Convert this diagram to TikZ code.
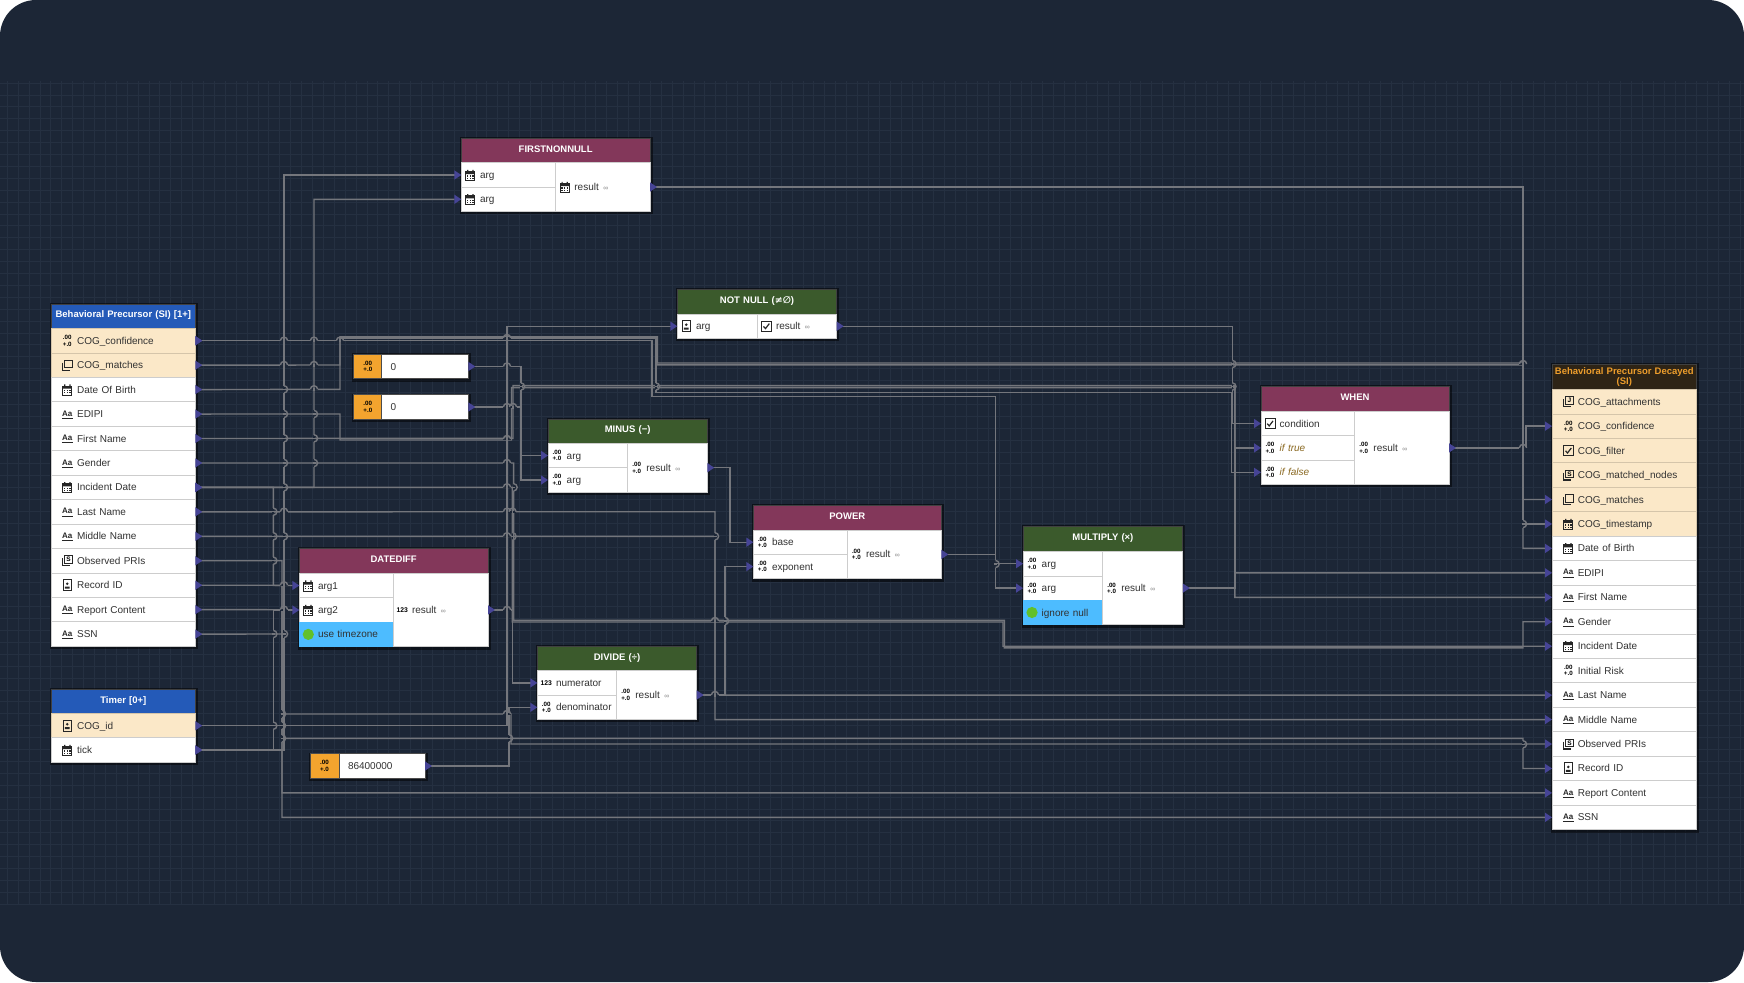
\documentclass[tikz,border=0pt]{standalone}
\usepackage{fontspec}
\setmainfont{Liberation Sans}
\newfontfamily\symfont{DejaVu Sans}
\usepackage{xcolor}
\usepackage{tikz}
\usetikzlibrary{arrows.meta}
\definecolor{canvas}{RGB}{28,38,54}
\definecolor{gridfaint}{RGB}{37,48,65}
\definecolor{wirecol}{RGB}{116,118,124}
\definecolor{portink}{RGB}{70,68,150}
\definecolor{tableblue}{RGB}{36,90,184}
\definecolor{outbrown}{RGB}{46,36,22}
\definecolor{outorange}{RGB}{238,158,44}
\definecolor{keyrow}{RGB}{251,232,200}
\definecolor{opgreen}{RGB}{59,90,44}
\definecolor{opmaroon}{RGB}{131,55,90}
\definecolor{constorange}{RGB}{243,164,46}
\definecolor{flagblue}{RGB}{77,188,255}
\definecolor{flaggreen}{RGB}{98,192,42}
\definecolor{optbrown}{RGB}{138,104,32}
\definecolor{rowrule}{RGB}{205,205,205}
\definecolor{inktext}{RGB}{50,50,50}
\tikzset{
  wire/.style={draw=wirecol, line width=1.4pt,
    arrows={Triangle[reversed,length=7pt,width=9pt,color=portink]-Triangle[length=7pt,width=9pt,color=portink]}},
  hopline/.style={draw=wirecol, line width=1.4pt},
  panelshade/.style={fill=black, opacity=.5},
  basecell/.style={inner sep=0pt, outer sep=0pt, font=\fontsize{10}{12}\selectfont, text=inktext, align=left,
    text height=8pt, text depth=1pt},
  tablerow/.style={basecell, fill=white, draw=rowrule, line width=.8pt, execute at begin node={\hspace*{25.8pt}}},
  tablekey/.style={tablerow, fill=keyrow, draw=keyrow!85!black},
  oprow/.style={basecell, fill=white, draw=rowrule, line width=.8pt, execute at begin node={\hspace*{18.7pt}}},
  opflag/.style={oprow, fill=flagblue, draw=flagblue},
  optrow/.style={oprow, font=\fontsize{10}{12}\selectfont\itshape, text=optbrown},
  constcell/.style={basecell, fill=white, draw=black!70, line width=.8pt, execute at begin node={\hspace*{9pt}}},
  constmark/.style={basecell, fill=constorange, draw=black!70, line width=.8pt},
  headcell/.style={inner sep=0pt, outer sep=0pt, draw=black!75, line width=.8pt, align=center, text=white,
    font=\fontsize{9.5}{10.2}\selectfont\bfseries, execute at begin node={\hyphenpenalty=10000\exhyphenpenalty=10000}},
  headblue/.style={headcell, fill=tableblue, text height=7pt, text depth=3.6pt},
  headout/.style={headcell, fill=outbrown, text=outorange},
  headgreen/.style={headcell, fill=opgreen, text height=7pt, text depth=3.6pt},
  headmaroon/.style={headcell, fill=opmaroon, text height=7pt, text depth=3.6pt},
  iconline/.style={draw=black!85, line width=1pt},
  pics/calicon/.style={code={
    \draw[iconline] (-4.5,-3.5) rectangle (4.5,5.5);
    \fill[black!85] (-4.5,-3.5) rectangle (4.5,-1) (-3.2,-5.2) rectangle (-2,-3) (2,-5.2) rectangle (3.2,-3);
    \foreach \dx in {-2.6,0,2.6} {\foreach \dy in {1,3.2} {\fill[black!85] (\dx-.7,\dy-.6) rectangle (\dx+.7,\dy+.6);}}
  }},
  pics/copyicon/.style={code={
    \draw[iconline] (-2.5,-5) rectangle (5,2.5);
    \draw[iconline] (-5,-2.5) -- (-5,5) -- (2.5,5);
  }},
  pics/docs/.style={code={
    \draw[iconline] (-2.5,-5) rectangle (5,2.5);
    \draw[iconline, line width=1.4pt] (-5,-2.5) -- (-5,5) -- (2.5,5);
    \node[inner sep=0pt, font=\fontsize{6.5}{7}\selectfont\bfseries] (glyph) at (1.2,-1.2) {S};
  }},
  pics/docj/.style={code={
    \draw[iconline] (-2.5,-5) rectangle (5,2.5);
    \draw[iconline, line width=1.4pt] (-5,-2.5) -- (-5,5) -- (2.5,5);
    \node[inner sep=0pt, font=\fontsize{6.5}{7}\selectfont\bfseries] (glyph) at (1.2,-1.2) {J};
  }},
  pics/idicon/.style={code={
    \draw[iconline] (-4,-5.5) rectangle (4,5.5);
    \fill[black!85] (0,-1.5) circle (1.4pt) (-2.4,1.4) rectangle (2.4,3.4);
  }},
  pics/checkicon/.style={code={
    \draw[iconline] (-5,-5) rectangle (5,5);
    \draw[black!85, line width=1.2pt] (-2.8,.2) -- (-.8,2.4) -- (3,-2.6);
  }},
  pics/texticon/.style={code={
    \node[inner sep=0pt, text=black!85, font=\fontsize{8}{8}\selectfont\bfseries] (glyph) at (0,-.6) {Aa};
    \draw[black!85, line width=.8pt] (-5.5,4.2) -- (5.5,4.2);
  }},
  pics/numicon/.style={code={
    \node[inner sep=0pt, text=black, align=center, font=\fontsize{6.2}{6.4}\selectfont\bfseries] (glyph) at (0,0) {.00\\+.0};
  }},
  pics/inticon/.style={code={
    \node[inner sep=0pt, text=black, font=\fontsize{6.8}{7}\selectfont\bfseries] (glyph) at (0,0) {123};
  }},
  pics/flagdot/.style={code={\fill[flaggreen] (0,0) circle (5.6pt);}},
}
% one cell: name, left x, middle y, width, height, style, text
\newcommand{\cell}[7]{\node[#6, anchor=west, minimum width=#4pt, text width=#4pt, minimum height=#5pt] (#1) at (#2,#3) {#7};}
\newcommand{\iconin}[3]{\edef\doicon{\noexpand\pic[xshift=#2pt] at (#1.west) {#3};}\doicon}
\newcommand{\hoph}[2]{%
  \fill[canvas] (#1-3.6,#2-.9) rectangle (#1+3.6,#2+.9);
  \draw[hopline] (#1,#2-1.5) -- (#1,#2+1.5);
  \draw[hopline] (#1-3.6,#2) arc[start angle=180, end angle=0, radius=3.6pt];}
\newcommand{\hopv}[2]{%
  \fill[canvas] (#1-.9,#2-3.6) rectangle (#1+.9,#2+3.6);
  \draw[hopline] (#1-1.5,#2) -- (#1+1.5,#2);
  \draw[hopline] (#1,#2-3.6) arc[start angle=90, end angle=-90, radius=3.6pt];}
\newcommand{\rslt}{result {\fontsize{7}{8}\selectfont\color{black!45}\,∞}}

\begin{document}
\begin{tikzpicture}[x=1pt, y=-1pt]
  \useasboundingbox (0,0) rectangle (1744,982);
  \fill[white] (0,0) rectangle (1744,982);
  \fill[canvas, rounded corners=36pt] (0,0) rectangle (1744,982);
  \foreach \gx in {7.2,18.1,...,1744} {\draw[gridfaint, line width=.7pt] (\gx,81) -- (\gx,905);}
  \foreach \gy in {83,94.9,...,905} {\draw[gridfaint, line width=.7pt] (0,\gy) -- (1744,\gy);}

  % shadows under the boxes
  \foreach \xa/\ya/\xb/\yb in {51.3/304/195.3/646, 51.3/689.3/195.3/762, 1552/364.7/1696.7/829.7, 461.3/138.3/650/211,
    677.3/289.7/836.7/338.3, 548/419/707.3/492, 299.3/548.7/488/646.5, 753.3/505.3/941.3/578.7, 537.3/646/696.7/719.3,
    1023/526.7/1182.8/624.7, 1261/386.7/1449/484.3, 353.3/354.3/468.3/378.7, 353.3/395/468.3/419, 310/754/425/778}
    {\fill[panelshade] (\xa-1.5,\yb+3) rectangle (\xb+2.5,\ya-1.5);}

  % source table
  \cell{lHead}{51.3}{316.2}{144}{24.4}{headblue}{Behavioral Precursor (SI) [1+]}
  \foreach \nm/\ic/\txt [count=\i from 0] in {lConf/numicon/COG\_confidence, lMatches/copyicon/COG\_matches} {
    \pgfmathsetmacro\rowy{340.7+24.45*\i}
    \cell{\nm}{51.3}{\rowy}{144}{24.45}{tablekey}{\txt}
    \iconin{\nm}{16}{\ic}
  }
  \foreach \nm/\ic/\txt [count=\i from 2] in {lDob/calicon/Date Of Birth, lEdipi/texticon/EDIPI, lFirst/texticon/First Name,
    lGender/texticon/Gender, lIncident/calicon/Incident Date, lLast/texticon/Last Name, lMiddle/texticon/Middle Name,
    lPri/docs/Observed PRIs, lRecord/idicon/Record ID, lReport/texticon/Report Content, lSsn/texticon/SSN} {
    \pgfmathsetmacro\rowy{340.7+24.45*\i}
    \cell{\nm}{51.3}{\rowy}{144}{24.45}{tablerow}{\txt}
    \iconin{\nm}{16}{\ic}
  }

  % timer table
  \cell{tHead}{51.3}{701.3}{144}{24.4}{headblue}{Timer [0+]}
  \cell{tId}{51.3}{725.7}{144}{24.45}{tablekey}{COG\_id}
  \iconin{tId}{16}{idicon}
  \cell{tTick}{51.3}{750}{144}{24.45}{tablerow}{tick}
  \iconin{tTick}{16}{calicon}

  % output table
  \cell{rHead}{1552}{377}{144.7}{24.6}{headout}{Behavioral Precursor Decayed\\[-.4pt](SI)}
  \foreach \nm/\ic/\txt [count=\i from 0] in {rAttach/docj/COG\_attachments, rConf/numicon/COG\_confidence, rFilter/checkicon/COG\_filter,
    rNodes/docs/COG\_matched\_nodes, rMatches/copyicon/COG\_matches, rStamp/calicon/COG\_timestamp} {
    \pgfmathsetmacro\rowy{401.7+24.45*\i}
    \cell{\nm}{1552}{\rowy}{144.7}{24.45}{tablekey}{\txt}
    \iconin{\nm}{16.3}{\ic}
  }
  \foreach \nm/\ic/\txt [count=\i from 6] in {rDob/calicon/Date of Birth, rEdipi/texticon/EDIPI, rFirst/texticon/First Name,
    rGender/texticon/Gender, rIncident/calicon/Incident Date, rRisk/numicon/Initial Risk, rLast/texticon/Last Name,
    rMiddle/texticon/Middle Name, rPri/docs/Observed PRIs, rRecord/idicon/Record ID, rReport/texticon/Report Content, rSsn/texticon/SSN} {
    \pgfmathsetmacro\rowy{401.7+24.45*\i}
    \cell{\nm}{1552}{\rowy}{144.7}{24.45}{tablerow}{\txt}
    \iconin{\nm}{16.3}{\ic}
  }

  % operator headers
  \foreach \nm/\xa/\wdc/\yc/\sty/\txt in {fnnHead/461.3/188.7/150.5/headmaroon/FIRSTNONNULL,
    nnHead/677.3/159.4/301.9/headgreen/NOT NULL ({\symfont ≠∅}), minHead/548/159.3/431.2/headgreen/MINUS (−),
    dateHead/299.3/188.7/561/headmaroon/DATEDIFF, powHead/753.3/188/517.7/headmaroon/POWER,
    divHead/537.3/159.4/658.4/headgreen/DIVIDE (÷), mulHead/1023/159.8/539.1/headgreen/MULTIPLY (×),
    whenHead/1261/188/399/headmaroon/WHEN} {
    \cell{\nm}{\xa}{\yc}{\wdc}{24.5}{\sty}{\txt}
  }

  % operator inputs
  \foreach \nm/\xa/\wdc/\yc/\sty/\ic/\txt in {fnnA/461.3/94.4/175/oprow/calicon/arg, fnnB/461.3/94.4/199.3/oprow/calicon/arg,
    nnArg/677.3/80/326.2/oprow/idicon/arg, minA/548/79.7/455.5/oprow/numicon/arg, minB/548/79.7/480/oprow/numicon/arg,
    dateA/299.3/94/585.5/oprow/calicon/arg1, dateB/299.3/94/610/oprow/calicon/arg2, dateTz/299.3/94/634.4/opflag/flagdot/use timezone,
    powBase/753.3/94/542.2/oprow/numicon/base, powExp/753.3/94/566.6/oprow/numicon/exponent,
    divNum/537.3/79.4/682.9/oprow/inticon/numerator, divDen/537.3/79.4/707.3/oprow/numicon/denominator,
    mulA/1023/79.6/563.7/oprow/numicon/arg, mulB/1023/79.6/588.1/oprow/numicon/arg, mulNull/1023/79.6/612.5/opflag/flagdot/ignore null,
    whenCond/1261/93.7/423.5/oprow/checkicon/condition, whenTrue/1261/93.7/447.9/optrow/numicon/if true, whenFalse/1261/93.7/472.3/optrow/numicon/if false} {
    \cell{\nm}{\xa}{\yc}{\wdc}{24.4}{\sty}{\txt}
    \iconin{\nm}{9}{\ic}
  }

  % operator results
  \foreach \nm/\xa/\wdc/\yc/\htc/\ic in {fnnOut/555.7/94.3/187/48.8/calicon, nnOut/757.3/79.4/326.2/24.4/checkicon,
    minOut/627.7/79.6/467.7/48.8/numicon, dateOut/393.3/94.7/609.9/73.2/inticon, powOut/847.3/94/554.4/48.8/numicon,
    divOut/616.7/80/695/48.8/numicon, mulOut/1102.6/80.2/588.1/73.2/numicon, whenOut/1354.7/94.3/447.9/73.2/numicon} {
    \cell{\nm}{\xa}{\yc}{\wdc}{\htc}{oprow}{\rslt}
    \iconin{\nm}{9}{\ic}
  }

  % constants
  \foreach \nm/\xa/\xm/\xb/\yc/\txt in {constA/353.3/381.7/468.3/366.5/0, constB/353.3/381.7/468.3/407/0, constC/310/339/425/766/86400000} {
    \pgfmathsetmacro\wda{\xm-\xa}
    \pgfmathsetmacro\wdb{\xb-\xm}
    \cell{\nm Mark}{\xa}{\yc}{\wda}{24.4}{constmark}{}
    \iconin{\nm Mark}{14.5}{numicon}
    \cell{\nm}{\xm}{\yc}{\wdb}{24.4}{constcell}{\txt}
  }

  % connectors
  \draw[wire] (lConf.east) -- (652,340.7) -- (652,396.7) -- (995.5,396.7) |- (mulA.west);
  \draw[wire] (lConf.east) -- (340,340.7) -- (340,338.6) -- (656,338.6) -- (656,392.7) -- (1231.7,392.7) |- (whenFalse.west);
  \draw[wire] (lMatches.east) -- (340,365) -- (340,336.7) -- (657.5,336.7) -- (657.5,363) -- (1523,363) |- (rMatches.west);
  \draw[wire] (lDob.east) -- (340,389.3) -- (340,337.5) -- (657,337.5) -- (657,364.8) -- (1523,364.8) |- (rDob.west);
  \draw[wire] (lEdipi.east) -- (340,414) -- (340,440) -- (511.5,440) -- (511.5,387.6) -- (1234.8,387.6) |- (rEdipi.west);
  \draw[wire] (lFirst.east) -- (513,438.3) -- (513,385.6) -- (1234.8,385.6) |- (rFirst.west);
  \draw[wire] (lGender.east) -- (513.6,463) -- (513.6,620.4) -- (1004.4,620.4) -- (1004.4,647.8) -- (1523,647.8) |- (rGender.west);
  \draw[wire] (lIncident.east) -- (512.2,487.3) -- (512.2,622) -- (1003,622) |- (rIncident.west);
  \draw[wire] (lIncident.east) -- (314,487.3) |- (fnnB.west);
  \draw[wire] (lIncident.east) -- (273.3,487.3) |- (dateA.west);
  \draw[wire] (tTick.east) -- (273.3,750) |- (dateB.west);
  \draw[wire] (tTick.east) -- (284,750) |- (fnnA.west);
  \draw[wire] (lLast.east) -- (715,511.7) |- (rLast.west);
  \draw[wire] (lMiddle.east) -- (715,536.3) |- (rMiddle.west);
  \draw[wire] (lPri.east) -- (282,560.7) -- (282,714) -- (511,714) |- (rPri.west);
  \draw[wire] (lRecord.east) -- (282,585.3) -- (282,738.3) -- (1523,738.3) |- (rRecord.west);
  \draw[wire] (lReport.east) -- (282,609.7) |- (rReport.west);
  \draw[wire] (lSsn.east) -- (282,634) |- (rSsn.west);
  \draw[wire] (tId.east) -- (507,725.7) |- (nnArg.west);
  \draw[wire] (nnOut.east) -- (1232.4,326.2) |- (whenCond.west);
  \draw[wire] (mulOut.east) -- (1234.8,588.1) |- (whenTrue.west);
  \draw[wire] (whenOut.east) -- (1526,447.9) |- (rConf.west);
  \draw[wire] (fnnOut.east) -- (1523,187) |- (rStamp.west);
  \draw[wire] (minOut.east) -- (730,467.7) |- (powBase.west);
  \draw[wire] (divOut.east) -- (725,695) |- (powExp.west);
  \draw[wire] (powOut.east) -- (995.5,554.4) |- (mulB.west);
  \draw[wire] (dateOut.east) -- (512.2,609.9) |- (divNum.west);
  \draw[wire] (constA.east) -- (521,366.5) |- (minA.west);
  \draw[wire] (constB.east) -- (521,407) |- (minB.west);
  \draw[wire] (constC.east) -- (509,766) |- (divDen.west);

  % line jumps
  \foreach \hx/\hy in {284/340.7, 314/340.7, 340/340.7, 284/365, 314/365, 314/389.3, 284/511.7, 284/585.3, 284/609.7,
    507/338, 507/366.5, 507/407, 513/407, 507/439, 507/463, 507/487.3, 507/511.7, 512.5/511.7, 507/536.3, 507/609.9,
    507/714, 715/621, 715/695, 1523/364, 1523/447.9} {\hoph{\hx}{\hy}}
  \foreach \hx/\hy in {284/389.3, 284/414, 284/438.3, 284/463, 284/487.3, 284/536.3, 314/414, 314/438.3, 314/463,
    273.3/511.7, 273.3/536.3, 273.3/560.7, 273.3/634, 273.3/725.7, 284/634, 282/714, 282/725.7, 282/738.3,
    521/386.5, 513.6/487.3, 512.5/536.3, 509/738.3, 656/386.5, 715/536.3, 725/621, 995.5/564, 1232.4/364,
    1232.4/386.5, 1523/524, 1523/744.3} {\hopv{\hx}{\hy}}
\end{tikzpicture}
\end{document}
